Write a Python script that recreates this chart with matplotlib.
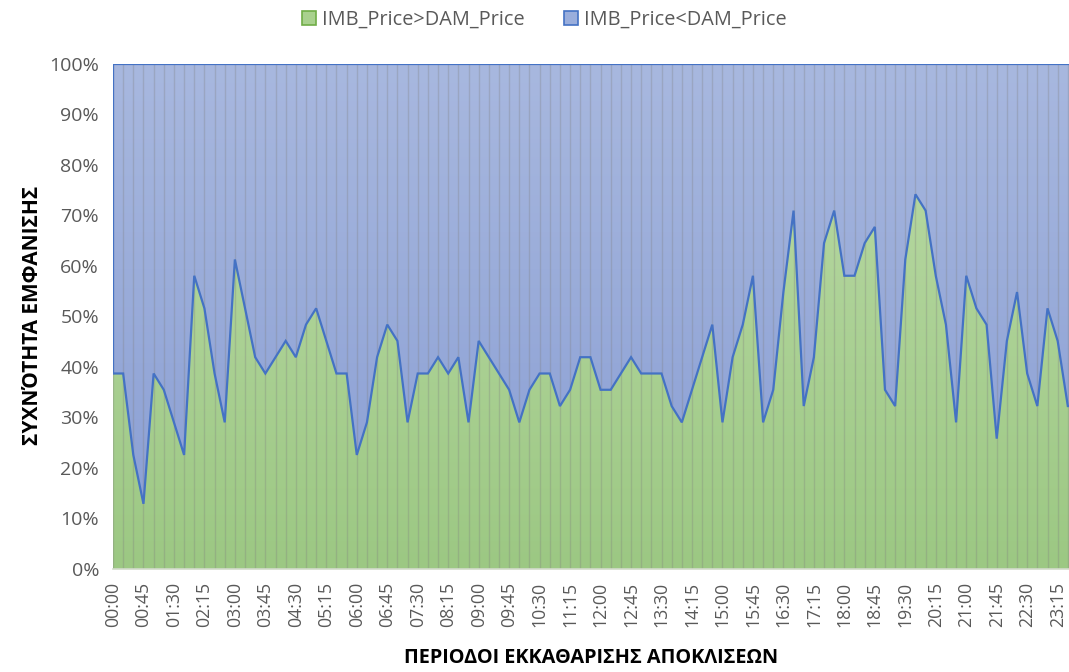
import numpy as np
import matplotlib
matplotlib.use("Agg")
import matplotlib.pyplot as plt
from matplotlib.colors import LinearSegmentedColormap
from matplotlib.patches import Patch
from matplotlib.ticker import FuncFormatter

plt.rcParams['font.family'] = ['Open Sans', 'DejaVu Sans']

# 15-minute settlement periods of the day
periods = [f"{h:02d}:{m:02d}" for h in range(24) for m in (0, 15, 30, 45)]

# days (out of 31) on which each case occurred, per period
imb_above_dam = [12, 12, 7, 4, 12, 11, 9, 7, 18, 16, 12, 9, 19, 16, 13, 12, 13, 14, 13, 15, 16, 14, 12, 12,
                 7, 9, 13, 15, 14, 9, 12, 12, 13, 12, 13, 9, 14, 13, 12, 11, 9, 11, 12, 12, 10, 11, 13, 13,
                 11, 11, 12, 13, 12, 12, 12, 10, 9, 11, 13, 15, 9, 13, 15, 18, 9, 11, 17, 22, 10, 13, 20, 22,
                 18, 18, 20, 21, 11, 10, 19, 23, 22, 18, 15, 9, 18, 16, 15, 8, 14, 17, 12, 10, 16, 14, 10, 10]
imb_below_dam = [19, 19, 24, 27, 19, 20, 22, 24, 13, 15, 19, 22, 12, 15, 18, 19, 18, 17, 18, 16, 15, 17, 19, 19,
                 24, 22, 18, 16, 17, 22, 19, 19, 18, 19, 18, 22, 17, 18, 19, 20, 22, 20, 19, 19, 21, 20, 18, 18,
                 20, 20, 19, 18, 19, 19, 19, 21, 22, 20, 18, 16, 22, 18, 16, 13, 22, 20, 14, 9, 21, 18, 11, 9,
                 13, 13, 11, 10, 20, 21, 12, 8, 9, 13, 16, 22, 13, 15, 16, 23, 17, 14, 19, 21, 15, 17, 21, 21]

labels = ['IMB_Price>DAM_Price', 'IMB_Price<DAM_Price']

above = np.array(imb_above_dam, dtype=float)
below = np.array(imb_below_dam, dtype=float)
total = above + below
share_above = above / total * 100
share_top = share_above + below / total * 100
x = np.arange(len(periods))

fig = plt.figure(figsize=(10.69, 6.72), dpi=100)
ax = fig.add_axes([0.1057, 0.1533, 0.9027, 0.7515])

x0, x1 = x[0], x[-1]
grad = np.linspace(0, 1, 256).reshape(-1, 1)


def gradient_area(lower, upper, c_bottom, c_top):
    poly = ax.fill_between(x, lower, upper, color='none', lw=0)
    cmap = LinearSegmentedColormap.from_list('fill', [c_bottom, c_top])
    im = ax.imshow(grad, extent=[x0, x1, 0, 100], origin='lower', cmap=cmap,
                   aspect='auto', zorder=1, interpolation='bilinear')
    im.set_clip_path(poly.get_paths()[0], transform=ax.transData)


gradient_area(0, share_above, '#9cc883', '#bcdba8')
gradient_area(share_above, share_top, '#889dd3', '#a8b8df')

# thin category gridlines show through the areas
for xi in x:
    ax.axvline(xi, color='#7f7f7f', alpha=0.3, lw=1.0, zorder=2)

# outline of the upper area
ax.plot(x, share_above, color='#4472C4', lw=1.6, zorder=3, solid_joinstyle='miter')
ax.plot(x, share_top, color='#4472C4', lw=1.6, zorder=3)
ax.plot([x0, x0], [share_above[0], share_top[0]], color='#4472C4', lw=1.6, zorder=3)

ax.set_xlim(x0, x1)
ax.set_ylim(0, 100)

for side in ('top', 'right', 'left'):
    ax.spines[side].set_visible(False)
ax.spines['bottom'].set_color('#d3dbcb')
ax.spines['bottom'].set_linewidth(1.2)

ax.set_yticks(np.arange(0, 101, 10))
ax.yaxis.set_major_formatter(FuncFormatter(lambda v, p: f"{v:.0f}%"))
ax.set_xticks(x[::3])
ax.set_xticklabels(periods[::3], rotation=90)
ax.tick_params(axis='both', length=0, labelcolor='#595959')
ax.tick_params(axis='y', labelsize=14, pad=10)
ax.tick_params(axis='x', labelsize=12.8, pad=9)

fig.text(0.553, 0.006, 'ΠΕΡΙΟΔΟΙ ΕΚΚΑΘΑΡΙΣΗΣ ΑΠΟΚΛΙΣΕΩΝ', ha='center', va='bottom',
         fontsize=14.3, fontweight='bold', color='black')
fig.text(0.03, 0.53, 'ΣΥΧΝΌΤΗΤΑ ΕΜΦΑΝΙΣΗΣ', ha='center', va='center', rotation=90,
         fontsize=15, fontweight='bold', color='black')

handles = [Patch(facecolor='#a9d18e', edgecolor='#70AD47', lw=1.2),
           Patch(facecolor='#9aaedc', edgecolor='#4472C4', lw=1.2)]
fig.legend(handles, labels, loc='upper center', bbox_to_anchor=(0.509, 1.012), ncol=2,
           frameon=False, handlelength=0.7, handleheight=0.7, handletextpad=0.3,
           columnspacing=2.0, fontsize=14.3, labelcolor='#595959')

fig.savefig('out.png', dpi=100)
